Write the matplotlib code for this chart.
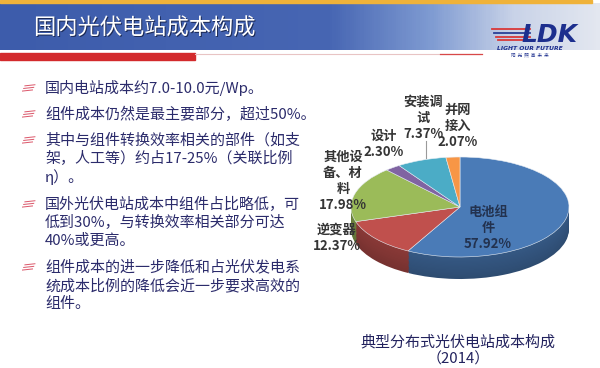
import numpy as np
import matplotlib.pyplot as plt
from matplotlib.colors import to_rgb, LinearSegmentedColormap
from matplotlib.patches import Rectangle, Polygon

plt.rcParams['font.family'] = ['Noto Sans CJK SC', 'DejaVu Sans']

W, H = 600, 368

# ---- 数据 ----
title = '国内光伏电站成本构成'
bullets = [
    ['国内电站成本约7.0-10.0元/Wp。'],
    ['组件成本仍然是最主要部分，超过50%。'],
    ['其中与组件转换效率相关的部件（如支', '架，人工等）约占17-25%（关联比例', 'η）。'],
    ['国外光伏电站成本中组件占比略低，可', '低到30%，与转换效率相关部分可达', '40%或更高。'],
    ['组件成本的进一步降低和占光伏发电系', '统成本比例的降低会近一步要求高效的', '组件。'],
]
parts = ['电池组件', '逆变器', '其他设备、材料', '设计', '安装调试', '并网接入']
shares = [57.92, 12.37, 17.98, 2.30, 7.37, 2.07]
part_lines = [['电池组', '件'], ['逆变器'], ['其他设', '备、材', '料'], ['设计'], ['安装调', '试'], ['并网', '接入']]
part_colors = ['#4a7bb7', '#c0504d', '#9bbb59', '#8064a2', '#4bacc6', '#f79646']
caption = ['典型分布式光伏电站成本构成', '（2014）']


def fx(x):
    return x / W


def fy(y):
    return 1 - y / H


def darker(c, k):
    r, g, b = to_rgb(c)
    return (r * k, g * k, b * k)


fig = plt.figure(figsize=(6, 3.68), dpi=100)
fig.patch.set_facecolor('white')

# 背景层, 像素坐标
bg = fig.add_axes([0, 0, 1, 1])
bg.set_xlim(0, W)
bg.set_ylim(H, 0)
bg.axis('off')

# 标题栏渐变
cmap = LinearSegmentedColormap.from_list('hdr', [(0, '#3d5cab'), (0.55, '#4766b3'), (0.72, '#7f9bd2'),
                                                  (0.86, '#c9d3e8'), (1, '#e3e7f0')])
grad = np.linspace(0, 1, 300)[None, :]
bg.imshow(grad, cmap=cmap, extent=(0, W, 50, 3), aspect='auto', zorder=1)
bg.add_patch(Rectangle((0, 0), 592, 3, color='#efb23a', zorder=2))
bg.add_patch(Rectangle((0, 53), 195, 6.5, color='#d32a2c', zorder=2))
bg.plot([195, 480], [53.6, 53.6], color='#e8c4c4', lw=0.8, zorder=2)
bg.plot([440, 482], [53.6, 53.6], color='#d84848', lw=0.9, zorder=2)

bg.text(34.5, 29.5, title, fontsize=16, color='#1c2a55', va='center', ha='left', zorder=3)
bg.text(33, 28, title, fontsize=16, color='white', va='center', ha='left', zorder=4)

# LDK 标志
for i, c in enumerate(['#d93838', '#2a3f95', '#d93838', '#d93838']):
    y = 29 + i * 3.8
    bg.plot([492 + i * 2, 530], [y, y], color=c, lw=1.3, zorder=3)
bg.text(549, 35, 'LDK', fontsize=18, fontweight='bold', style='italic', color='#1d2f8e',
        family='DejaVu Sans', ha='center', va='center', zorder=4)
bg.text(530, 48.5, 'LIGHT OUR FUTURE', fontsize=4.3, fontweight='bold', style='italic',
        color='#1d2f8e', family='DejaVu Sans', ha='center', va='center', zorder=4)
bg.text(530, 55, '阳  光  照  亮  未  来', fontsize=3.3, color='#1d2f8e', ha='center', va='center', zorder=4)

# 项目符号与文字
first_y = [88, 114, 140, 204, 267]
step = 18.5
for lines, y0 in zip(bullets, first_y):
    for j in range(3):
        yy = y0 + 3 - j * 2.6
        xs = 22 + j * 1.2
        bg.add_patch(Polygon([(xs, yy + 0.6), (xs + 11, yy - 0.6), (xs + 11, yy - 1.6), (xs, yy - 0.4)],
                             closed=True, color='#d8475c', alpha=0.9, lw=0, zorder=3))
    for k, line in enumerate(lines):
        bg.text(45, y0 + k * step, line, fontsize=10.8, fontweight='medium', color='#2b2b6b',
                va='center', ha='left', zorder=3)

# 3D 饼图
px_l, px_r, px_t, px_b = 340, 580, 140, 300
cx, cy, rx, ry = 460, 207, 109, 50
depth = 22 / ry
ax = fig.add_axes([fx(px_l), fy(px_b), (px_r - px_l) / W, (px_b - px_t) / H])
nlay = 18
for k in range(nlay):
    off = -depth * (1 - k / nlay)
    ax.pie(shares, colors=[darker(c, 0.62 + 0.1 * k / nlay) for c in part_colors],
           startangle=90, counterclock=False, center=(0, off), radius=1,
           wedgeprops=dict(linewidth=0))
ax.pie(shares, colors=part_colors, startangle=90, counterclock=False, radius=1,
       wedgeprops=dict(linewidth=0.4, edgecolor='#e8eef5'))
ax.set_aspect('auto')
ax.set_xlim(-(cx - px_l) / rx, (px_r - cx) / rx)
ax.set_ylim(-(px_b - cy) / ry, (cy - px_t) / ry)
ax.axis('off')

# 数据标签
label_pos = [(488, 212), (337, 230), (343, 157), (384, 136), (423, 102), (458, 110)]
for name_lines, val, (lx, ly), i in zip(part_lines, shares, label_pos, range(len(shares))):
    col = '#23324f' if i == 0 else '#353535'
    rows = name_lines + ['%.2f%%' % val]
    for r, t in enumerate(rows):
        fig.text(fx(lx), fy(ly + r * 16), t, fontsize=9.5, fontweight='bold', color=col,
                 ha='center', va='center')
fig.add_artist(plt.Line2D([fx(426), fx(426)], [fy(141), fy(158)], color='#9a9a9a', lw=0.8))

# 图题
fig.text(fx(458), fy(342), caption[0], fontsize=10.8, color='#22225e', ha='center', va='center')
fig.text(fx(458), fy(359), caption[1], fontsize=10.8, color='#22225e', ha='center', va='center')

fig.savefig('out.png', dpi=100)
